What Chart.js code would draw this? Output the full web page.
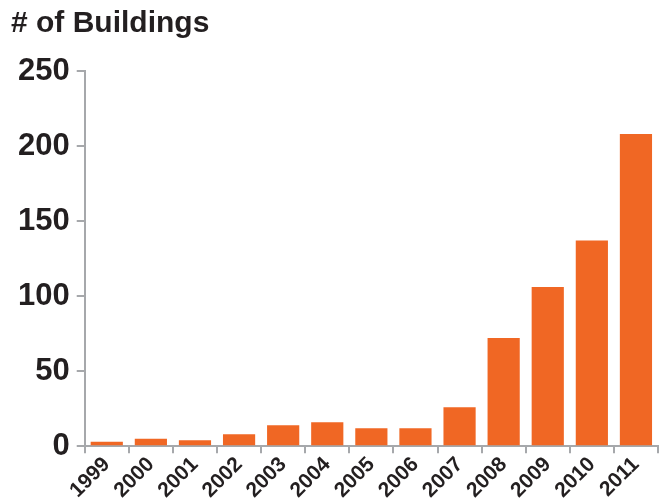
<!DOCTYPE html>
<html>
<head>
<meta charset="utf-8">
<script src="https://cdn.jsdelivr.net/npm/chart.js@4"></script>
<style>
  html, body { margin: 0; padding: 0; background: #fff; }
  #wrap { width: 660px; height: 502px; }
</style>
</head>
<body>
<div id="wrap"><canvas id="chart" width="660" height="502"></canvas></div>
<script>
var years = ['1999', '2000', '2001', '2002', '2003', '2004', '2005', '2006', '2007', '2008', '2009', '2010', '2011'];
var buildings = [3, 5, 4, 8, 14, 16, 12, 12, 26, 72, 106, 137, 208];
var y_ticks = [0, 50, 100, 150, 200, 250];

var font_family = "'Liberation Sans Narrow', 'Arial Narrow', 'Liberation Sans', sans-serif";
var text_color = '#231f20';
var axis_color = '#a6a8ab';

var ctx = document.getElementById('chart');
new Chart(ctx, {
    type: 'bar',
    data: {
        labels: years,
        datasets: [{
            label: '# of Buildings',
            data: buildings,
            backgroundColor: '#f06724',
            borderWidth: 0,
            barPercentage: 0.73,
            categoryPercentage: 1.0
        }]
    },
    options: {
        responsive: false,
        animation: false,
        layout: { padding: { left: 11, right: 2, top: 6, bottom: 0 } },
        plugins: {
            legend: { display: false },
            tooltip: { enabled: false },
            title: {
                display: true,
                text: '# of Buildings',
                align: 'start',
                color: text_color,
                font: { family: font_family, size: 30, weight: 'bold' },
                padding: { top: 0, bottom: 29 }
            }
        },
        scales: {
            x: {
                offset: true,
                grid: {
                    offset: true,
                    drawOnChartArea: false,
                    drawTicks: true,
                    tickLength: 7,
                    color: axis_color,
                    lineWidth: 2
                },
                border: { color: axis_color, width: 2 },
                ticks: {
                    color: text_color,
                    font: { family: font_family, size: 21, weight: 'bold' },
                    minRotation: 45,
                    maxRotation: 45,
                    padding: -1
                }
            },
            y: {
                min: 0,
                max: 250,
                afterBuildTicks: function(axis) {
                    axis.ticks = y_ticks.map(function(v) { return { value: v }; });
                },
                grid: {
                    drawOnChartArea: false,
                    drawTicks: true,
                    tickLength: 8,
                    color: axis_color,
                    lineWidth: 2
                },
                border: { color: axis_color, width: 2 },
                ticks: {
                    color: text_color,
                    font: { family: font_family, size: 31, weight: 'bold' },
                    padding: 7
                }
            }
        }
    }
});
</script>
</body>
</html>
